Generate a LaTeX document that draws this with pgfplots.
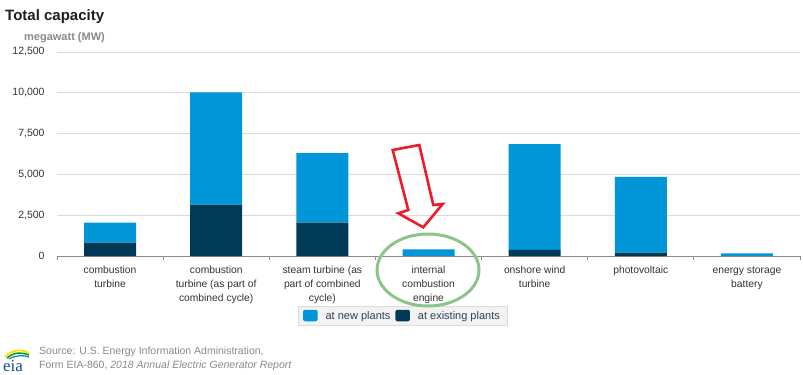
\documentclass[border=0pt]{standalone}
\usepackage{fontspec}
\setmainfont{Liberation Sans}
\usepackage{pgfplots}
\pgfplotsset{compat=1.18}
\definecolor{newc}{HTML}{0096D8}
\definecolor{oldc}{HTML}{003A56}
\definecolor{gridc}{HTML}{DADADA}
\definecolor{axisc}{HTML}{8C8C8C}
\definecolor{txt}{HTML}{333333}
\definecolor{subt}{HTML}{8A8A8A}
\definecolor{src}{HTML}{8A8A8A}
\definecolor{legtxt}{HTML}{33415C}
\definecolor{legbg}{HTML}{F2F2F2}
\definecolor{legdraw}{HTML}{DCDCDC}
\definecolor{arrowred}{HTML}{EE1C2B}
\definecolor{ellgreen}{HTML}{8CC489}
\definecolor{eiablue}{HTML}{1B4F8C}
\begin{document}
\begin{tikzpicture}[x=1bp,y=1bp]
\useasboundingbox (0,0) rectangle (803,374);
\fill[white] (0,0) rectangle (803,374);
% title
\node[anchor=base west, inner sep=0, font=\bfseries\fontsize{15bp}{18bp}\selectfont, text=black!88] at (5,353.3) {Total capacity};
\node[anchor=base west, inner sep=0, font=\bfseries\fontsize{11bp}{13bp}\selectfont, text=subt] at (24,333.5) {megawatt (MW)};
\begin{axis}[
  at={(57bp,118bp)}, anchor=south west,
  scale only axis, width=743bp, height=204bp,
  xmin=-0.5, xmax=6.5, ymin=0, ymax=12500,
  ybar stacked, bar width=0.49,
  axis x line*=bottom, axis y line*=left,
  x axis line style={draw=axisc, line width=0.9bp, -},
  y axis line style={draw=none},
  ytick={0,2500,5000,7500,10000,12500},
  scaled y ticks=false,
  ymajorgrids, grid style={draw=gridc, line width=0.8bp},
  ytick style={draw=none},
  yticklabel={\pgfmathprintnumber[fixed,precision=0,1000 sep={,},assume math mode=true]{\tick}},
  yticklabel style={font=\fontsize{10.5bp}{12bp}\selectfont, text=txt, inner sep=0, xshift=-8bp},
  xtick={0,...,6},
  xticklabels={{combustion\\turbine},{combustion\\turbine (as part of\\combined cycle)},{steam turbine (as\\part of combined\\cycle)},{internal\\combustion\\engine},{onshore wind\\turbine},{photovoltaic},{energy storage\\battery}},
  xticklabel style={font=\fontsize{10.3bp}{14bp}\selectfont, text=txt, align=center, inner sep=0, yshift=-6bp},
  major x tick style={draw=none},
  minor xtick={-0.5,0.5,...,6.5},
  minor x tick style={draw=axisc, line width=0.9bp},
  minor tick length=4bp, tick align=outside,
  legend columns=2, reverse legend,
  legend style={at={(0.465,-0.293)}, anchor=center, fill=legbg, draw=legdraw, line width=0.6bp,
    font=\fontsize{11bp}{13bp}\selectfont, text=legtxt, inner xsep=5bp, inner ysep=3bp,
    /tikz/every even column/.append style={column sep=3bp},
    /tikz/every odd column/.append style={column sep=6bp}},
  legend image code/.code={\fill[#1, rounded corners=2bp] (0bp,-5.5bp) rectangle (14.5bp,6bp);},
  clip=false,
]
\addplot[fill=oldc, draw=none] coordinates {(0,820) (1,3150) (2,2050) (3,0) (4,380) (5,200) (6,0)};
\addlegendentry{at existing plants}
\addplot[fill=newc, draw=none] coordinates {(0,1230) (1,6870) (2,4250) (3,400) (4,6470) (5,4650) (6,160)};
\addlegendentry{at new plants}
\end{axis}
% annotations
\draw[arrowred, line width=2.6bp, line join=miter] (392.7,224) -- (419.3,229) -- (433.3,169) -- (442.7,170) -- (423.3,146.7) -- (398.3,160.7) -- (408.3,164) -- cycle;
\draw[ellgreen, line width=3bp] (428,104) ellipse (51bp and 36bp);
% source
\node[anchor=base west, inner sep=0, font=\fontsize{10.5bp}{13bp}\selectfont, text=src, align=left] at (39,19.5) {Source: U.S. Energy Information Administration,};
\node[anchor=base west, inner sep=0, font=\fontsize{10.5bp}{13bp}\selectfont, text=src, align=left] at (39,5.5) {Form EIA-860, \textit{2018 Annual Electric Generator Report}};
% eia logo
\node[anchor=base west, inner sep=0, font=\fontsize{17bp}{17bp}\selectfont\rmfamily, text=eiablue] at (3,3) {\fontspec{Liberation Serif}eia};
\draw[yellow!80!orange, line width=1.8bp] (5,17) .. controls (12,25) and (22,25) .. (29,21);
\draw[green!60!black, line width=1.5bp] (7,16) .. controls (14,22) and (22,22) .. (29,19);
\draw[cyan!70!blue, line width=1.3bp] (9,15) .. controls (16,19) and (23,19) .. (29,17);
\end{tikzpicture}
\end{document}
